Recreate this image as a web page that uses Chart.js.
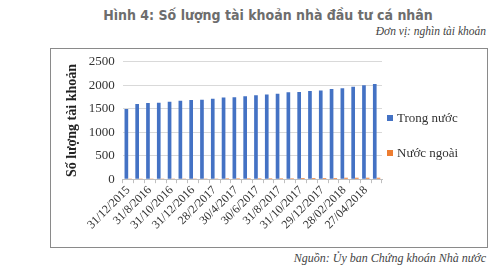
<!DOCTYPE html>
<html>
<head>
<meta charset="utf-8">
<script src="https://cdn.jsdelivr.net/npm/chart.js@4"></script>
<style>
    body { margin: 0; background: #fff; width: 500px; height: 270px; position: relative; overflow: hidden; }
    .title { position: absolute; top: 7px; left: 18px; width: 500px; text-align: center;
        font-family: "Liberation Sans Narrow", "DejaVu Sans Condensed", sans-serif; font-weight: bold;
        font-size: 14px; color: #6d6d6d; }
    .unit { position: absolute; top: 25px; right: 14px; font-family: "Liberation Serif", serif;
        font-style: italic; font-size: 11.5px; color: #444; }
    .source { position: absolute; top: 251px; right: 14px; font-family: "Liberation Serif", serif;
        font-style: italic; font-size: 12px; color: #444; }
    .frame { position: absolute; left: 50px; top: 48px; width: 436px; height: 198px; border: 1px solid #8a8a8a; }
    .frame canvas { position: absolute; left: 0; top: -3px; }
    .legend { position: absolute; left: 336px; top: 62px; font-family: "Liberation Serif", serif;
        font-size: 13px; color: #333; }
    .legend div { position: absolute; white-space: nowrap; line-height: 14px; }
    .legend span { display: inline-block; width: 6px; height: 6px; margin-right: 4px; vertical-align: 1px; }
</style>
</head>
<body>
<div class="title">Hình 4: Số lượng tài khoản nhà đầu tư cá nhân</div>
<div class="unit">Đơn vị: nghìn tài khoản</div>
<div class="frame">
    <canvas id="chart" width="436" height="201"></canvas>
    <div class="legend" id="legend"></div>
</div>
<div class="source">Nguồn: Ủy ban Chứng khoán Nhà nước</div>
<script>
// Categories (every other one is labelled on the axis)
const dates = [
    '31/12/2015', '31/7/2016', '31/8/2016', '30/9/2016', '31/10/2016', '30/11/2016',
    '31/12/2016', '31/1/2017', '28/2/2017', '31/3/2017', '30/4/2017', '31/5/2017',
    '30/6/2017', '31/7/2017', '31/8/2017', '30/9/2017', '31/10/2017', '30/11/2017',
    '29/12/2017', '31/01/2018', '28/02/2018', '30/03/2018', '27/04/2018', '31/05/2018'
];

// Series values (thousand accounts)
const domestic = [
    1493, 1603, 1623, 1630, 1651, 1671, 1685, 1692, 1712, 1740, 1747, 1767,
    1788, 1801, 1822, 1849, 1856, 1877, 1890, 1918, 1938, 1966, 2000, 2027
];
const foreign = [
    12, 13, 13, 14, 14, 15, 15, 16, 16, 17, 17, 18,
    19, 20, 21, 22, 23, 25, 26, 27, 28, 29, 30, 31
];

const yTicks = [0, 500, 1000, 1500, 2000, 2500];

const serif = '"Liberation Serif", "Times New Roman", serif';

const chart = new Chart(document.getElementById('chart'), {
    type: 'bar',
    data: {
        labels: dates,
        datasets: [
            { label: 'Trong nước', data: domestic, backgroundColor: '#4472C4' },
            { label: 'Nước ngoài', data: foreign, backgroundColor: '#ED7D31' }
        ]
    },
    options: {
        responsive: false,
        animation: false,
        layout: { padding: { left: 9, top: 0, right: 105, bottom: 15 } },
        datasets: { bar: { categoryPercentage: 0.68, barPercentage: 1 } },
        plugins: {
            legend: { display: false },
            tooltip: { enabled: false }
        },
        scales: {
            y: {
                min: 0, max: 2500,
                afterBuildTicks: axis => { axis.ticks = yTicks.map(v => ({ value: v })); },
                ticks: {
                    color: '#333', font: { family: serif, size: 13 }, padding: 8,
                    callback: v => String(v)
                },
                grid: { color: '#d9d9d9', drawTicks: false },
                border: { display: false },
                title: {
                    display: true, text: 'Số lượng tài khoản', color: '#222',
                    padding: { top: 4, bottom: 0 },
                    font: { family: serif, size: 14, weight: 'bold' }
                }
            },
            x: {
                ticks: {
                    autoSkip: false, maxRotation: 45, minRotation: 45,
                    color: '#333', font: { family: serif, size: 12 }, padding: 0,
                    callback: function (value, index) {
                        return index % 2 === 0 ? this.getLabelForValue(value) : '';
                    }
                },
                grid: { drawOnChartArea: false, drawTicks: true, tickLength: 4, color: '#bfbfbf' },
                border: { color: '#bfbfbf' }
            }
        }
    }
});

// Legend built from the chart's datasets
const legend = document.getElementById('legend');
chart.data.datasets.forEach((ds, i) => {
    const item = document.createElement('div');
    item.style.top = (i * 35) + 'px';
    item.innerHTML = '<span style="background:' + ds.backgroundColor + '"></span>' + ds.label;
    legend.appendChild(item);
});
</script>
</body>
</html>
